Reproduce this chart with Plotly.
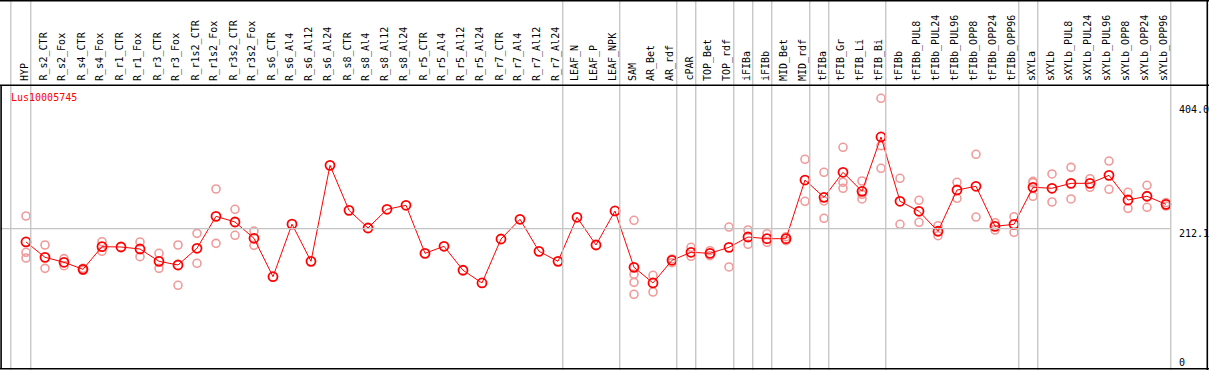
import plotly.graph_objects as go

W, H = 1209, 370

categories = ["HYP", "R_s2_CTR", "R_s2_Fox", "R_s4_CTR", "R_s4_Fox", "R_r1_CTR", "R_r1_Fox",
              "R_r3_CTR", "R_r3_Fox", "R_r1s2_CTR", "R_r1s2_Fox", "R_r3s2_CTR", "R_r3s2_Fox",
              "R_s6_CTR", "R_s6_Al4", "R_s6_Al12", "R_s6_Al24", "R_s8_CTR", "R_s8_Al4",
              "R_s8_Al12", "R_s8_Al24", "R_r5_CTR", "R_r5_Al4", "R_r5_Al12", "R_r5_Al24",
              "R_r7_CTR", "R_r7_Al4", "R_r7_Al12", "R_r7_Al24", "LEAF_N", "LEAF_P", "LEAF_NPK",
              "SAM", "AR_Bet", "AR_rdf", "cPAR", "TOP_Bet", "TOP_rdf", "iFIBa", "iFIBb",
              "MID_Bet", "MID_rdf", "tFIBa", "tFIB_Gr", "tFIB_Li", "tFIB_Bi", "tFIBb",
              "tFIBb_PUL8", "tFIBb_PUL24", "tFIBb_PUL96", "tFIBb_OPP8", "tFIBb_OPP24",
              "tFIBb_OPP96", "sXYLa", "sXYLb", "sXYLb_PUL8", "sXYLb_PUL24", "sXYLb_PUL96",
              "sXYLb_OPP8", "sXYLb_OPP24", "sXYLb_OPP96"]

mean_values = [191.5, 167.7, 160.0, 149.1, 184.2, 183.7, 180.6, 161.5, 155.8, 181.7,
               231.3, 222.5, 197.2, 137.6, 219.1, 161.5, 310.4, 240.6, 213.2, 242.2,
               248.4, 173.9, 184.8, 147.6, 127.9, 196.1, 226.7, 177.0, 161.5, 229.8,
               186.8, 239.6, 152.2, 127.9, 163.1, 175.5, 173.9, 183.2, 199.2, 196.6,
               196.6, 287.6, 260.8, 299.6, 270.1, 354.4, 254.6, 239.1, 208.1, 272.1,
               277.9, 215.8, 218.9, 276.3, 274.8, 282.5, 282.5, 294.9, 256.6, 262.4,
               249.9]

replicates = [
    [231.8, 175.5, 166.6], [186.8, 150.6], [165.6, 154.7], [150.6, 147.6], [191.9, 177.0],
    [], [191.5, 168.7], [173.9, 150.6], [186.8, 124.3], [204.9, 158.4],
    [273.7, 189.4], [242.2, 201.9], [208.5, 186.3], [], [],
    [], [], [], [], [],
    [], [], [], [], [],
    [], [], [], [], [],
    [], [], [225.1, 141.3, 128.9, 110.3], [139.8, 113.9], [165.1, 159.3],
    [183.2, 169.3], [178.0, 170.2], [214.7, 152.7], [210.1, 187.9], [204.3, 191.0],
    [199.7, 193.5], [319.8, 254.6], [299.6, 255.1, 228.2], [338.4, 284.1, 274.8], [286.1, 265.4, 258.2],
    [414.4, 340.9, 305.8], [290.3, 218.9], [256.2, 222.0], [216.7, 201.2], [284.1, 259.3],
    [327.5, 230.2], [221.4, 210.1], [230.7, 206.5], [285.6, 283.5, 262.4], [297.0, 253.5],
    [307.3, 258.2], [289.7, 276.3], [317.1, 273.2], [268.6, 243.7], [279.4, 245.3],
    [252.7, 247.2],
]

# index of last member of each group (separator drawn right after it)
group_ends = [0, 28, 31, 34, 35, 37, 38, 39, 41, 42, 45, 52, 53, 60]
axis_ticks = [404.0, 212.1, 0]
gene_id = "Lus10005745"

x_idx = list(range(len(categories)))
rep_x, rep_y = [], []
for i, reps in enumerate(replicates):
    for v in reps:
        rep_x.append(i)
        rep_y.append(v)

fig = go.Figure()
fig.add_trace(go.Scatter(x=rep_x, y=rep_y, mode="markers",
                         marker=dict(symbol="circle-open", size=8, color="#f09a9a",
                                     line=dict(width=1.6, color="#f09a9a")),
                         hoverinfo="skip"))
fig.add_trace(go.Scatter(x=x_idx, y=mean_values, mode="lines+markers",
                         line=dict(color="#ff0000", width=1),
                         marker=dict(symbol="circle-open", size=9, color="#ff0000",
                                     line=dict(width=1.8, color="#ff0000")),
                         hoverinfo="skip"))

def py(p):
    return 1 - p / H

shapes = []
grey = "#c4c4c4"
# vertical separators
sep_x = [-0.8] + [e + 0.25 for e in group_ends]
for sx in sep_x:
    shapes.append(dict(type="line", xref="x", yref="paper", x0=sx, x1=sx, y0=0, y1=1,
                       line=dict(color=grey, width=1.3)))
# horizontal gridline at middle tick
shapes.append(dict(type="line", xref="paper", yref="y", x0=0, x1=(1170.5) / W,
                   y0=axis_ticks[1], y1=axis_ticks[1], line=dict(color=grey, width=1.3)))
# borders
black = "#000000"
shapes.append(dict(type="line", xref="paper", yref="paper", x0=0, x1=1, y0=py(0.8), y1=py(0.8),
                   line=dict(color=black, width=1.6)))
shapes.append(dict(type="line", xref="paper", yref="paper", x0=0, x1=1, y0=py(85.3), y1=py(85.3),
                   line=dict(color=black, width=1.6)))
shapes.append(dict(type="line", xref="paper", yref="paper", x0=0, x1=1, y0=py(368.8), y1=py(368.8),
                   line=dict(color=black, width=1.6)))
shapes.append(dict(type="line", xref="paper", yref="paper", x0=1.1 / W, x1=1.1 / W, y0=py(85.3), y1=py(369),
                   line=dict(color=black, width=1.6)))
shapes.append(dict(type="line", xref="paper", yref="paper", x0=1207.3 / W, x1=1207.3 / W, y0=0, y1=1,
                   line=dict(color=black, width=1.6)))

annotations = []
mono = "DejaVu Sans Mono"
for i, c in enumerate(categories):
    annotations.append(dict(x=i, xref="x", y=py(83), yref="paper", text=c, showarrow=False,
                            textangle=-90, xanchor="center", yanchor="bottom", xshift=-2,
                            font=dict(family=mono, size=10, color="#000000")))
for t in axis_ticks:
    annotations.append(dict(x=1177 / W, xref="paper", y=t, yref="y",
                            text=("%.1f" % t) if t != 0 else "0", showarrow=False,
                            xanchor="left", yanchor="top" if t != 0 else "bottom",
                            yshift=3 if t != 0 else -5,
                            font=dict(family=mono, size=10, color="#000000")))
annotations.append(dict(x=9 / W, xref="paper", y=py(97), yref="paper", text=gene_id,
                        showarrow=False, xanchor="left", yanchor="middle",
                        font=dict(family=mono, size=10, color="#ff0000")))

fig.update_layout(
    width=W, height=H, margin=dict(l=0, r=0, t=0, b=0),
    paper_bgcolor="white", plot_bgcolor="white", showlegend=False,
    xaxis=dict(range=[-26 / 19, (W - 26) / 19], visible=False, fixedrange=True),
    yaxis=dict(range=[566.9 - 1.5514 * H, 566.9], visible=False, fixedrange=True),
    shapes=shapes, annotations=annotations,
)
fig.write_html("out.html", config={"displayModeBar": False},
               post_script="document.body.style.margin='0';document.body.style.overflow='hidden';")
